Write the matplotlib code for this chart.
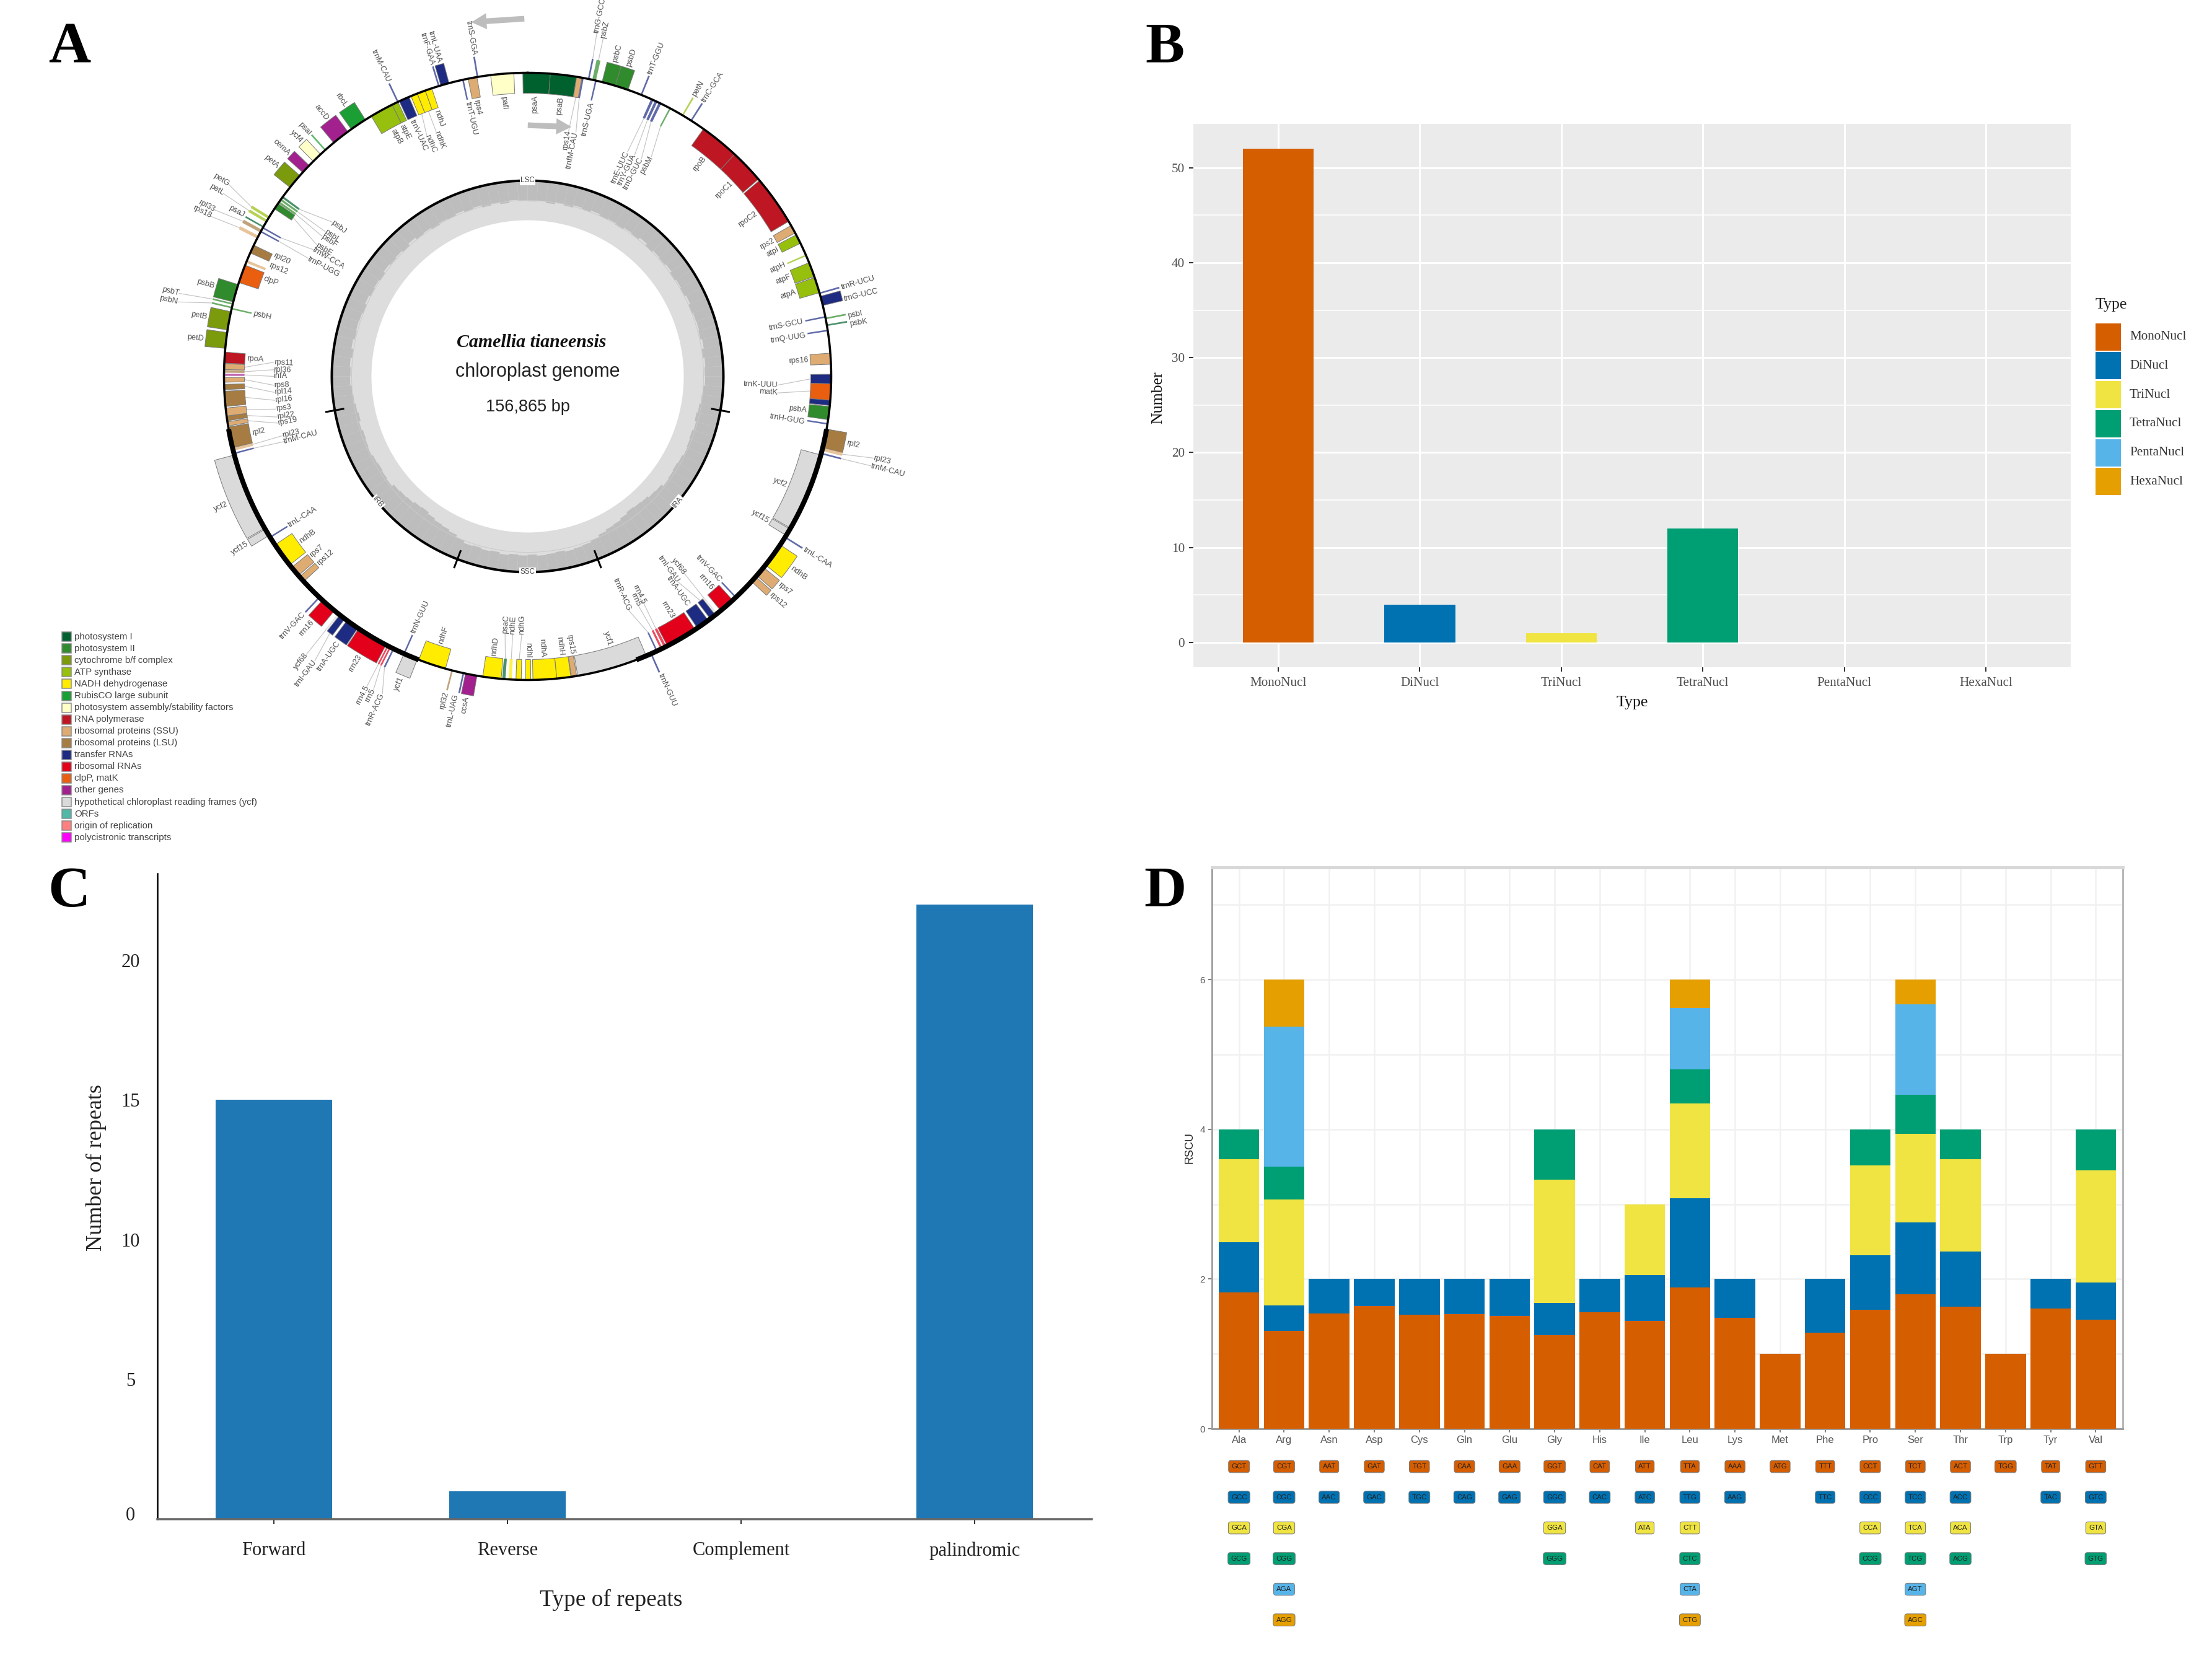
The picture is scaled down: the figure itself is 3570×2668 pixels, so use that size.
import numpy as np
import matplotlib
matplotlib.use("Agg")
import matplotlib.pyplot as plt
from matplotlib.patches import Rectangle, FancyArrowPatch
from matplotlib.transforms import ScaledTranslation

W, H, DPI = 3570, 2668, 100
SERIF = "Liberation Serif"
SANS = "Liberation Sans"

# ---------- Panel A data: functional classes ----------
class_names = ["photosystem I", "photosystem II", "cytochrome b/f complex", "ATP synthase",
               "NADH dehydrogenase", "RubisCO large subunit", "photosystem assembly/stability factors",
               "RNA polymerase", "ribosomal proteins (SSU)", "ribosomal proteins (LSU)", "transfer RNAs",
               "ribosomal RNAs", "clpP, matK", "other genes", "hypothetical chloroplast reading frames (ycf)",
               "ORFs", "origin of replication", "polycistronic transcripts"]
class_colors = ["#00612E", "#2F8B2B", "#7B9A0C", "#97BF0D", "#FFEC00", "#1B9E33", "#FFFFC8", "#BE1622",
                "#DEAC72", "#A67C42", "#1D2B83", "#E2001A", "#E95E0F", "#A3218E", "#DADADA", "#4FB8A6",
                "#FF7F7F", "#FF00FF"]
PSI, PSII, CYT, ATP, NDH, RBC, ASM, RPO, SSU, LSU, TRN, RRN, CLP, OTH, YCF = range(15)

# ---------- Panel A data: genes (degrees clockwise from top) ----------
gene_names = [
    "psaA", "psaB", "rps14", "trnfM-CAU", "trnG-GCC", "psbZ", "trnS-UGA", "psbC", "psbD", "trnT-GGU",
    "trnE-UUC", "trnY-GUA", "trnD-GUC", "psbM", "petN", "trnC-GCA", "rpoB", "rpoC1", "rpoC2", "rps2",
    "atpI", "atpH", "atpF", "atpA", "trnR-UCU", "trnG-UCC", "trnS-GCU", "psbI", "psbK", "trnQ-UUG",
    "rps16", "trnK-UUU", "matK", "", "psbA", "trnH-GUG", "rpl2", "rpl23", "trnM-CAU", "ycf2",
    "ycf15", "trnL-CAA", "ndhB", "rps7", "rps12", "trnV-GAC", "rrn16", "ycf68", "trnI-GAU", "trnA-UGC",
    "rrn23", "rrn4.5", "rrn5", "trnR-ACG", "trnN-GUU", "ycf1", "rps15", "ndhH", "ndhA", "ndhI",
    "ndhG", "ndhE", "psaC", "ndhD", "ccsA", "trnL-UAG", "rpl32", "ndhF", "ycf1", "trnN-GUU",
    "trnR-ACG", "rrn5", "rrn4.5", "rrn23", "trnA-UGC", "trnI-GAU", "ycf68", "rrn16", "trnV-GAC", "rps12",
    "rps7", "ndhB", "trnL-CAA", "ycf15", "ycf2", "trnM-CAU", "rpl23", "rpl2", "rps19", "rpl22",
    "rps3", "rpl16", "rpl14", "rps8", "infA", "rpl36", "rps11", "rpoA", "petD", "petB",
    "psbH", "psbN", "psbT", "psbB", "clpP", "rps12", "rpl20", "rps18", "rpl33", "trnP-UGG",
    "psaJ", "trnW-CCA", "petL", "petG", "psbE", "psbF", "psbL", "psbJ", "petA", "cemA",
    "ycf4", "psaI", "accD", "rbcL", "atpB", "atpE", "trnM-CAU", "trnV-UAC", "ndhC", "ndhK",
    "ndhJ", "trnF-GAA", "trnL-UAA", "trnT-UGU", "rps4", "trnS-GGA", "pafI",
]
gene_starts = [
    359.1, 364.3, 369.3, 10.5, 11.6, 12.3, 13, 14.2, 16.8, 22,
    24, 24.8, 25.6, 28, 30.7, 32.6, 35.4, 43, 49.8, 60.2,
    62.2, 66.5, 68, 71, 74.1, 74.7, 78.7, 79, 80.3, 81.3,
    85.6, 89.6, 91.4, 94.5, 95.7, 99, 100, 103.6, 104.7, 105,
    120.2, 122, 123.7, 129, 131.3, 136.7, 137.5, 141.5, 141.8, 143.5,
    146.5, 152.8, 153.6, 154.8, 156, 157, 170.7, 171.8, 174.5, 179.4,
    181.2, 183, 184.2, 185, 189.6, 192.2, 194.4, 195.7, 201.3, 204,
    206.2, 206.9, 207.4, 207.8, 214, 217, 218.5, 219.5, 223.3, 227.5,
    229, 231.6, 238, 238.4, 240, 255.3, 255.8, 256.4, 260.6, 261.6,
    262.5, 264.3, 267.5, 268.9, 270.1, 270.7, 271.3, 272.5, 275.3, 278.8,
    282.9, 283.1, 283.8, 284.2, 288, 292, 294, 297, 298.3, 298.5,
    299.5, 299.3, 300.5, 301.3, 303.5, 304.8, 305.4, 306, 308.5, 312.2,
    315.1, 318.2, 320.3, 324.5, 329, 333.5, 334.7, 335, 337.4, 338.7,
    340.3, 343, 343.4, 347.7, 348.7, 350.5, 353,
]
gene_ends = [
    364.3, 369.3, 370.3, 10.5, 11.6, 13, 13, 16.8, 19.3, 22,
    24.5, 25.3, 26.1, 28, 30.7, 32.6, 43, 49.5, 59.3, 61.8,
    64, 66.5, 70.8, 74, 74.1, 76.5, 78.7, 79, 80.3, 81.3,
    87.7, 91.4, 94.5, 95.5, 98.2, 99, 103.6, 104.2, 104.7, 120,
    121.6, 122, 128.4, 131, 132.5, 136.7, 140.5, 141.5, 143, 146,
    152.6, 153.3, 154, 154.8, 156, 170.5, 171.7, 174.5, 179, 180.4,
    182.2, 183.6, 184.8, 188.5, 191.8, 192.2, 194.4, 201, 204, 204,
    206.2, 206.9, 207.4, 213.8, 216.5, 218.2, 218.5, 222.5, 223.3, 228.7,
    231, 236.3, 238, 239.8, 255, 255.3, 256.4, 260.4, 261.4, 262.5,
    264, 267.2, 268.5, 269.8, 270.5, 271.2, 272.4, 274.6, 278.3, 282.3,
    282.9, 283.1, 283.8, 287.6, 291.5, 292.5, 295.6, 297.6, 298.9, 298.5,
    299.5, 299.3, 301, 301.8, 304.7, 305.2, 305.8, 306.4, 311.4, 314,
    317, 318.2, 323.7, 327.7, 333.5, 334.7, 334.7, 337, 338.7, 340.3,
    341.6, 343, 345, 347.7, 350.4, 350.5, 357.4,
]
gene_sides = [
    -1, -1, -1, -1, 1, 1, -1, 1, 1, 1,
    -1, -1, -1, -1, 1, 1, -1, -1, -1, -1,
    -1, -1, -1, -1, 1, 1, -1, 1, 1, -1,
    -1, -1, -1, -1, -1, -1, 1, 1, 1, -1,
    -1, 1, 1, 1, 1, -1, -1, -1, -1, -1,
    -1, -1, -1, -1, 1, -1, -1, -1, -1, -1,
    -1, -1, -1, -1, 1, 1, 1, -1, 1, -1,
    1, 1, 1, 1, 1, 1, 1, 1, 1, -1,
    -1, -1, -1, 1, 1, -1, -1, -1, -1, -1,
    -1, -1, -1, -1, -1, -1, -1, -1, 1, 1,
    -1, 1, 1, 1, -1, -1, -1, 1, 1, -1,
    1, -1, 1, 1, -1, -1, -1, -1, 1, 1,
    1, 1, 1, 1, -1, -1, 1, -1, -1, -1,
    -1, 1, 1, -1, -1, 1, -1,
]
gene_classes = [
    PSI, PSI, SSU, TRN, TRN, PSII, TRN, PSII, PSII, TRN,
    TRN, TRN, TRN, PSII, ATP, TRN, RPO, RPO, RPO, SSU,
    ATP, ATP, ATP, ATP, TRN, TRN, TRN, PSII, PSI, TRN,
    SSU, TRN, CLP, TRN, PSII, TRN, LSU, SSU, TRN, YCF,
    YCF, TRN, NDH, SSU, SSU, TRN, RRN, YCF, TRN, TRN,
    RRN, RRN, RRN, TRN, TRN, YCF, SSU, NDH, NDH, NDH,
    NDH, NDH, PSI, NDH, OTH, TRN, LSU, NDH, YCF, TRN,
    TRN, RRN, RRN, RRN, TRN, TRN, YCF, RRN, TRN, SSU,
    SSU, NDH, TRN, YCF, YCF, TRN, SSU, LSU, SSU, LSU,
    SSU, LSU, LSU, SSU, OTH, LSU, SSU, RPO, CYT, CYT,
    PSII, PSII, PSII, PSII, CLP, SSU, LSU, SSU, LSU, TRN,
    PSI, TRN, ATP, ATP, PSII, PSII, PSII, PSI, CYT, OTH,
    ASM, RBC, OTH, RBC, ATP, ATP, TRN, TRN, NDH, NDH,
    NDH, TRN, TRN, TRN, SSU, TRN, ASM,
]
label_angles = [
    361.6, 366.8, 369.5, 11.2, 11.4, 12.6, 13.2, None, None, None,
    24, 25.8, 27.6, 29.4, None, None, 39, 46.5, 54.5, None,
    None, None, 69.2, 72.5, 74.2, 76.3, None, 79.3, 80.8, 81.6,
    None, 92, 93.8, None, None, 99.4, None, 103.3, 104.6, 112.8,
    121, None, None, 129.6, 131.8, None, 139, 141.5, 143.8, 145,
    149, 152.9, 154.2, 156.6, None, 163, 170.9, 173.2, 176.9, None,
    181.3, 183.3, 185, 186.9, 190.7, 192.6, None, 198, None, None,
    204.6, 206.2, 207.4, 211, 215.4, 216.8, 218.5, 221.3, None, None,
    230.4, None, None, None, 247, 255, 256.4, 258.3, 259.4, 260.8,
    262.6, 264.6, 266.4, 268, 270, 271.5, 273.2, None, 276.6, 280.5,
    None, 282, 283.4, 286, 290.4, 293.4, 295.5, 296.8, 298, 298.3,
    None, 300.6, 301, 302.7, 302, 304.3, 305.6, 308.3, 310, 313,
    316, 318, 322, 326, 331.3, 333.4, None, 335.7, 337.3, 339.5,
    341, None, 344.3, None, 349.4, None, 355,
]
label_gaps = [
    3, 3, 55, 55, 42, 36, 3, 3, 3, 3,
    60, 60, 60, 50, 3, 3, 3, 3, 3, 3,
    3, 3, 3, 3, 3, 3, 3, 3, 3, 3,
    3, 53, 53, 3, 3, 3, 3, 50, 50, 3,
    3, 3, 3, 3, 3, 3, 3, 50, 46, 5,
    3, 45, 45, 45, 3, 3, 3, 3, 3, 3,
    40, 40, 40, 3, 3, 3, 3, 3, 3, 3,
    40, 40, 40, 3, 3, 50, 50, 3, 3, 3,
    3, 3, 3, 3, 3, 50, 50, 3, 47, 47,
    47, 47, 47, 47, 47, 47, 47, 3, 3, 3,
    3, 55, 55, 3, 3, 3, 3, 50, 50, 55,
    3, 55, 50, 50, 55, 55, 55, 55, 3, 3,
    3, 3, 3, 3, 3, 3, 3, 3, 35, 35,
    3, 3, 3, 3, 3, 3, 3,
]
assert len({len(gene_names), len(gene_starts), len(gene_ends), len(gene_sides),
            len(gene_classes), len(label_angles), len(label_gaps)}) == 1

ir_spans = [(100, 159), (201, 260)]
region_names = ["LSC", "IRA", "SSC", "IRB"]
region_angles = [0, 130, 180, 230]

# GC profile, one value per 3 degree bin, read from the grey inner ring
gc_values = [
    52, 50, 54, 49, 53, 47, 51, 46, 50, 48,
    52, 47, 49, 44, 50, 46, 48, 45, 51, 47,
    49, 45, 50, 47, 46, 48, 44, 49, 45, 47,
    46, 50, 52, 55, 58, 54, 57, 55, 53, 56,
    58, 56, 54, 60, 62, 66, 68, 70, 66, 62,
    60, 56, 50, 46, 44, 42, 45, 43, 41, 44,
    42, 44, 41, 45, 43, 46, 44, 50, 56, 60,
    62, 66, 70, 68, 64, 62, 60, 54, 56, 58,
    56, 53, 55, 57, 54, 58, 55, 52, 50, 46,
    47, 45, 49, 44, 48, 46, 47, 50, 45, 49,
    47, 51, 45, 48, 46, 50, 44, 49, 47, 52,
    48, 50, 46, 51, 47, 53, 49, 54, 48, 51,
]

# ---------- Panel B data ----------
ssr_types = ["MonoNucl", "DiNucl", "TriNucl", "TetraNucl", "PentaNucl", "HexaNucl"]
ssr_counts = [52, 4, 1, 12, 0, 0]
okabe = ["#D55E00", "#0072B2", "#F0E442", "#009E73", "#56B4E9", "#E69F00"]

# ---------- Panel C data ----------
repeat_types = ["Forward", "Reverse", "Complement", "palindromic"]
repeat_counts = [15, 1, 0, 22]

# ---------- Panel D data ----------
amino_acids = ["Ala", "Arg", "Asn", "Asp", "Cys", "Gln", "Glu", "Gly", "His", "Ile",
               "Leu", "Lys", "Met", "Phe", "Pro", "Ser", "Thr", "Trp", "Tyr", "Val"]
codons = [["GCT", "GCC", "GCA", "GCG"], ["CGT", "CGC", "CGA", "CGG", "AGA", "AGG"], ["AAT", "AAC"], ["GAT", "GAC"],
          ["TGT", "TGC"], ["CAA", "CAG"], ["GAA", "GAG"], ["GGT", "GGC", "GGA", "GGG"], ["CAT", "CAC"],
          ["ATT", "ATC", "ATA"], ["TTA", "TTG", "CTT", "CTC", "CTA", "CTG"], ["AAA", "AAG"], ["ATG"], ["TTT", "TTC"],
          ["CCT", "CCC", "CCA", "CCG"], ["TCT", "TCC", "TCA", "TCG", "AGT", "AGC"], ["ACT", "ACC", "ACA", "ACG"],
          ["TGG"], ["TAT", "TAC"], ["GTT", "GTC", "GTA", "GTG"]]
rscu = [[1.82, .67, 1.11, .40], [1.31, .34, 1.41, .44, 1.87, .63], [1.54, .46], [1.64, .36],
        [1.52, .48], [1.53, .47], [1.51, .49], [1.25, .43, 1.65, .67], [1.56, .44],
        [1.44, .61, .95], [1.89, 1.19, 1.27, .45, .82, .38], [1.48, .52], [1.0], [1.28, .72],
        [1.59, .73, 1.20, .48], [1.80, .96, 1.18, .52, 1.21, .33], [1.63, .74, 1.23, .40],
        [1.0], [1.61, .39], [1.46, .49, 1.50, .55]]

# ---------- helpers ----------
fig = plt.figure(figsize=(W / DPI, H / DPI), dpi=DPI, facecolor="white")


def axes_px(left, top, right, bottom, **kw):
    return fig.add_axes([left / W, 1 - bottom / H, (right - left) / W, (bottom - top) / H], **kw)


def pt(px):
    return px * 72 / DPI


# ---------- Panel A ----------
CX, CY, R = 851.5, 607.5, 490.0
RMAX = 1.35
axA = axes_px(CX - RMAX * R, CY - RMAX * R, CX + RMAX * R, CY + RMAX * R, projection="polar")
axA.set_theta_zero_location("N")
axA.set_theta_direction(-1)
axA.set_ylim(0, RMAX)
axA.axis("off")
axA.patch.set_alpha(0)

R_IN, R_OUT = 252 / R, 316 / R
axA.bar(0, R_OUT - R_IN, width=2 * np.pi, bottom=R_IN, color="#DDDDDD", lw=0, zorder=1)
bin_deg = 360 / len(gc_values)
for i, gc in enumerate(gc_values):
    h = (R_OUT - R_IN) * gc / 100
    axA.bar(np.radians((i + 0.5) * bin_deg), h, width=np.radians(bin_deg), bottom=R_OUT - h,
            color="#BDBDBD", lw=0, zorder=2)
full = np.linspace(0, 2 * np.pi, 721)
axA.plot(full, np.full_like(full, R_OUT - 0.5 * (R_OUT - R_IN)), color="#CACACA", lw=pt(1), zorder=3)
axA.plot(full, np.full_like(full, R_OUT), color="black", lw=pt(4), zorder=4)
axA.plot(full, np.ones_like(full), color="black", lw=pt(3.5), zorder=6)
for a, b in ir_spans:
    arc = np.radians(np.linspace(a, b, 200))
    axA.plot(arc, np.ones_like(arc), color="black", lw=pt(8), zorder=6, solid_capstyle="butt")
    for e in (a, b):
        axA.plot([np.radians(e)] * 2, [R_OUT - 14 / R, R_OUT + 14 / R], color="black", lw=pt(3), zorder=5)
for nm, ang in zip(region_names, region_angles):
    rot = {0: 0, 180: 0, 130: 50, 230: -50}[ang]
    axA.text(np.radians(ang), R_OUT, nm, rotation=rot, rotation_mode="anchor", ha="center", va="center",
             fontsize=8.5, family=SANS, color="#444444", zorder=7,
             bbox=dict(boxstyle="square,pad=0.12", fc="white", ec="none"))

H_GENE = 33 / R
for nm, s, e, side, cls, la, gap in zip(gene_names, gene_starts, gene_ends, gene_sides, gene_classes,
                                        label_angles, label_gaps):
    mid = 0.5 * (s + e)
    wid = max(e - s, 0.3)
    thin = wid < 0.7
    bottom = 1.0 if side > 0 else 1.0 - H_GENE
    axA.bar(np.radians(mid), H_GENE, width=np.radians(wid), bottom=bottom, color=class_colors[cls],
            alpha=0.7 if thin else 1.0, edgecolor="none" if thin else "#7A7A7A",
            lw=0 if thin else pt(1), zorder=5)
    if not nm:
        continue
    ang = mid if la is None else la
    ang360 = ang % 360
    r_bar = 1.0 + side * H_GENE
    r_lab = r_bar + side * gap / R
    if gap > 10:
        axA.plot([np.radians(mid), np.radians(ang)], [r_bar, r_lab], color="#C4C4C4", lw=pt(1.2), zorder=4)
    right = ang360 < 180
    rot = 90 - ang360 if right else 270 - ang360
    ha = ("left" if side > 0 else "right") if right else ("right" if side > 0 else "left")
    axA.text(np.radians(ang), r_lab, nm, rotation=rot, rotation_mode="anchor", ha=ha, va="center",
             fontsize=9.2, family=SANS, color="#505050", clip_on=False, zorder=8)

# ---------- Panel B ----------
axB = axes_px(1926, 200, 3342, 1077)
x = np.arange(len(ssr_types))
axB.set_facecolor("#EBEBEB")
axB.bar(x, ssr_counts, width=0.5, color=okabe, zorder=3)
axB.set_xlim(-0.6, 5.6)
axB.set_ylim(-2.6, 54.6)
axB.set_xticks(x, ssr_types)
axB.set_yticks([0, 10, 20, 30, 40, 50])
axB.set_yticks([5, 15, 25, 35, 45], minor=True)
axB.grid(True, which="major", color="white", lw=pt(3), zorder=1)
axB.grid(True, which="minor", axis="y", color="white", lw=pt(1.5), zorder=1)
axB.tick_params(which="minor", length=0)
axB.tick_params(axis="x", which="major", length=pt(7), width=pt(2), color="#333333", pad=pt(9))
axB.tick_params(axis="y", which="major", length=pt(7), width=pt(2), color="#333333", pad=pt(7))
axB.set_axisbelow(True)
for s in axB.spines.values():
    s.set_visible(False)
for lab in axB.get_xticklabels() + axB.get_yticklabels():
    lab.set_family(SERIF)
    lab.set_fontsize(15.2)
    lab.set_color("#4D4D4D")

# ---------- Panel C ----------
axC = axes_px(253.5, 1410, 1761.5, 2452)
axC.bar(range(4), repeat_counts, width=0.5, color="#1F77B4", zorder=2)
axC.set_xlim(-0.5, 3.5)
axC.set_ylim(0, 23.1)
axC.set_xticks(range(4), repeat_types)
axC.set_yticks([0, 5, 10, 15, 20])
axC.spines["top"].set_visible(False)
axC.spines["right"].set_visible(False)
axC.spines["left"].set_linewidth(pt(2.5))
axC.spines["bottom"].set_linewidth(pt(3.5))
axC.spines["bottom"].set_color("#666666")
axC.spines["bottom"].set_zorder(3)
axC.tick_params(axis="y", length=0, pad=pt(43))
axC.tick_params(axis="x", length=pt(8), width=pt(2), color="#333333", pad=pt(28))
for k, lab in enumerate(axC.get_yticklabels()):
    lab.set_ha("center")
    lab.set_transform(lab.get_transform() + ScaledTranslation(0, (9 if k == 0 else 0) / DPI, fig.dpi_scale_trans))
for lab in axC.get_xticklabels() + axC.get_yticklabels():
    lab.set_family(SERIF)
    lab.set_fontsize(22)
    lab.set_color("#222222")

# ---------- Panel D ----------
axD = axes_px(1956, 1400, 3426, 2306)
for i, (vals, cods) in enumerate(zip(rscu, codons)):
    bottom = 0.0
    for j, v in enumerate(vals):
        axD.bar(i, v, width=0.9, bottom=bottom, color=okabe[j], zorder=3)
        bottom += v
        axD.text(i, -0.505 - 0.41 * j, cods[j], ha="center", va="center", fontsize=8.2, family=SANS,
                 color="#222222", clip_on=False,
                 bbox=dict(boxstyle="round,pad=0.42,rounding_size=0.35", fc=okabe[j], ec="#777777", lw=pt(1)))
axD.set_xlim(-0.6, len(amino_acids) - 0.4)
axD.set_ylim(0, 7.5)
axD.set_xticks(range(len(amino_acids)), amino_acids)
axD.set_yticks([0, 2, 4, 6])
axD.set_yticks([1, 3, 5, 7], minor=True)
axD.grid(True, which="both", color="#F1F1F1", lw=pt(2.5), zorder=1)
axD.tick_params(which="minor", length=0)
axD.tick_params(which="major", length=pt(6), width=pt(1.5), color="#555555", pad=pt(5), labelcolor="#555555")
for lab in axD.get_xticklabels():
    lab.set_family(SANS)
    lab.set_fontsize(12)
for lab in axD.get_yticklabels():
    lab.set_family(SANS)
    lab.set_fontsize(11)
axD.spines["left"].set_color("#A0A0A0")
axD.spines["left"].set_linewidth(pt(3))
axD.spines["bottom"].set_color("#A0A0A0")
axD.spines["bottom"].set_linewidth(pt(3))
axD.spines["top"].set_color("#D8D8D8")
axD.spines["top"].set_linewidth(pt(5))
axD.spines["right"].set_color("#B8B8B8")
axD.spines["right"].set_linewidth(pt(3))

# ---------- Overlay in pixel coordinates ----------
ov = fig.add_axes([0, 0, 1, 1], zorder=20)
ov.set_xlim(0, W)
ov.set_ylim(H, 0)
ov.axis("off")
ov.patch.set_alpha(0)

for letter, px, py in [("A", 112, 78), ("B", 1880, 78), ("C", 112, 1440), ("D", 1880, 1440)]:
    ov.text(px, py, letter, ha="center", va="center", fontsize=68, family=SERIF, weight="bold", color="black")

ov.text(858, 552, "Camellia tianeensis", ha="center", va="center", fontsize=21.5, family=SERIF,
        style="italic", weight="bold", color="#111111")
ov.text(868, 600, "chloroplast genome", ha="center", va="center", fontsize=22, family=SANS, color="#222222")
ov.text(852, 657, "156,865 bp", ha="center", va="center", fontsize=19.5, family=SANS, color="#222222")

for i, (nm, col) in enumerate(zip(class_names, class_colors)):
    yy = 1027.7 + 19.06 * i
    ov.add_patch(Rectangle((100, yy - 7.5), 15, 15, fc=col, ec="#8A8A8A", lw=pt(1.5)))
    ov.text(120, yy, nm, ha="left", va="center", fontsize=10.8, family=SANS, color="#444444")

for start, end in [((849, 30), (758, 36)), ((849, 202), (925, 205))]:
    ov.add_patch(FancyArrowPatch(start, end, arrowstyle="simple,head_length=1.6,head_width=1.7,tail_width=0.6",
                                 mutation_scale=11, fc="#BDBDBD", ec="none"))

# B titles and legend
ov.text(2634, 1134, "Type", ha="center", va="center", fontsize=18.6, family=SERIF, color="#111111")
ov.text(1869, 642, "Number", ha="center", va="center", rotation=90, fontsize=18.6, family=SERIF, color="#111111")
ov.text(3382, 492, "Type", ha="left", va="center", fontsize=18.6, family=SERIF, color="#222222")
for i, (nm, col) in enumerate(zip(ssr_types, okabe)):
    top = 521.7 + 46.7 * i
    ov.add_patch(Rectangle((3382, top), 41, 44, fc=col, ec="none"))
    ov.text(3437, top + 22, nm, ha="left", va="center", fontsize=15.2, family=SERIF, color="#333333")

# C titles
ov.text(986, 2582, "Type of repeats", ha="center", va="center", fontsize=27, family=SERIF, color="#222222")
ov.text(155, 1885, "Number of repeats", ha="center", va="center", rotation=90, fontsize=26, family=SERIF,
        color="#222222")

# D y title
ov.text(1920, 1853, "RSCU", ha="center", va="center", rotation=90, fontsize=13, family=SANS, color="#222222")

fig.savefig("out.png", dpi=DPI, facecolor="white")
